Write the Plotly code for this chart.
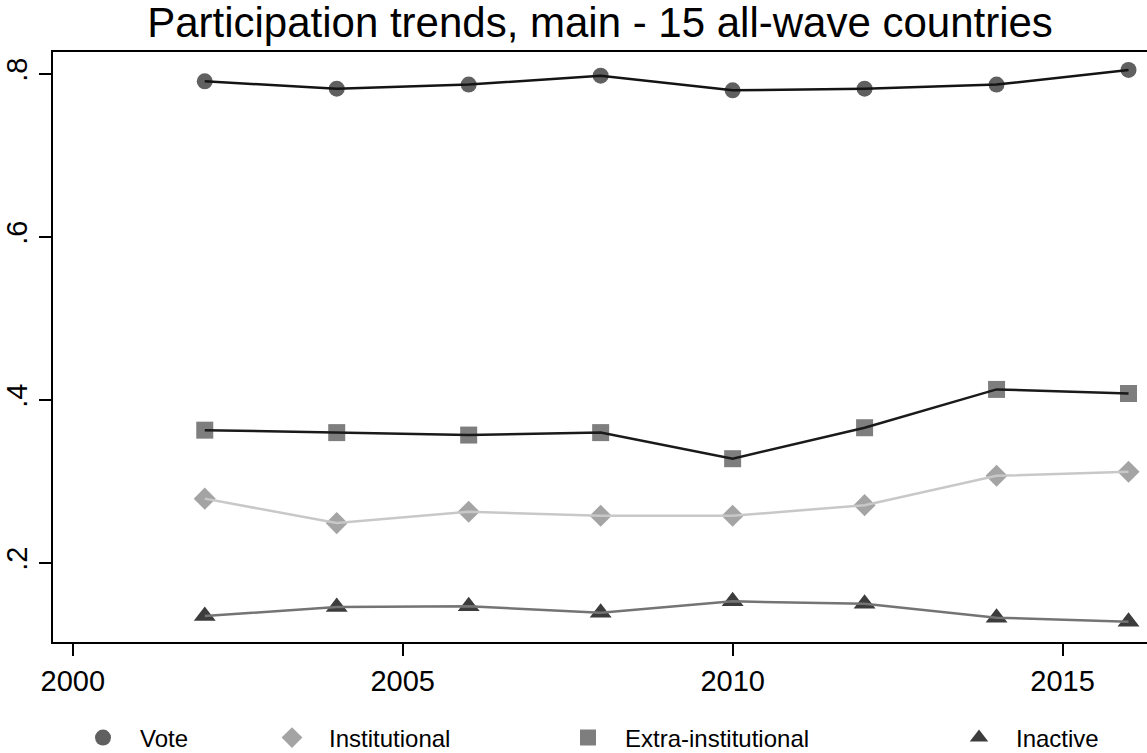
import plotly.graph_objects as go

years = [2002, 2004, 2006, 2008, 2010, 2012, 2014, 2016]
vote = [0.791, 0.782, 0.787, 0.798, 0.780, 0.782, 0.787, 0.805]
institutional = [0.279, 0.249, 0.263, 0.258, 0.258, 0.271, 0.307, 0.312]
extra_institutional = [0.363, 0.360, 0.357, 0.360, 0.328, 0.366, 0.413, 0.408]
inactive = [0.135, 0.146, 0.147, 0.139, 0.153, 0.150, 0.133, 0.128]

series_names = ["Vote", "Institutional", "Extra-institutional", "Inactive"]
x_tickvals = [2000, 2005, 2010, 2015]
y_tickvals = [0.2, 0.4, 0.6, 0.8]
y_ticktext = [".2", ".4", ".6", ".8"]

W, H = 1147, 753
ML, MR, MT, MB = 53, 0, 52, 111
PW = W - ML - MR
PH = H - MT - MB

styles = [
    dict(symbol="circle", size=16, mcolor="#606060", lcolor="#141414"),
    dict(symbol="diamond", size=17, mcolor="#a4a4a4", lcolor="#c8c8c8"),
    dict(symbol="square", size=17, mcolor="#7e7e7e", lcolor="#1a1a1a"),
    dict(symbol="triangle-up", size=19, mcolor="#3c3c3c", lcolor="#747474"),
]
data = [vote, institutional, extra_institutional, inactive]
legend_ids = ["legend", "legend2", "legend3", "legend4"]
legend_text_px = [140, 329, 625, 1016]
ITEMW = 64

fig = go.Figure()
for name, ys, st, lg in zip(series_names, data, styles, legend_ids):
    fig.add_trace(go.Scatter(
        x=years, y=ys, mode="markers", name=name, legend=lg,
        marker=dict(symbol=st["symbol"], size=st["size"], color=st["mcolor"],
                    line=dict(width=0)),
    ))
    fig.add_trace(go.Scatter(
        x=years, y=ys, mode="lines", name=name, showlegend=False,
        line=dict(color=st["lcolor"], width=2.5),
    ))

font_family = "Liberation Sans, Arial, sans-serif"
layout_legends = {}
for lg, tx in zip(legend_ids, legend_text_px):
    layout_legends[lg] = dict(
        x=(tx - (ITEMW + 10) - ML) / PW, xanchor="left",
        y=(MT + PH - 738) / PH, yanchor="middle",
        orientation="h", bgcolor="rgba(0,0,0,0)", borderwidth=0,
        itemwidth=ITEMW,
        font=dict(family=font_family, size=24, color="#000000"),
    )

fig.update_layout(
    width=W, height=H,
    margin=dict(l=ML, r=MR, t=MT, b=MB, pad=0, autoexpand=False),
    paper_bgcolor="white", plot_bgcolor="white",
    title=dict(text="Participation trends, main - 15 all-wave countries",
               x=0.5, xref="paper", xanchor="center",
               y=1 - 22 / H, yref="container", yanchor="middle",
               font=dict(family=font_family, size=42, color="#000000")),
    xaxis=dict(range=[1999.70, 2016.28], tickvals=x_tickvals,
               showgrid=False, zeroline=False, automargin=False,
               showline=True, linecolor="black", linewidth=2, mirror=True,
               ticks="outside", ticklen=12, tickwidth=2, tickcolor="black",
               tickfont=dict(family=font_family, size=29, color="#000000")),
    yaxis=dict(range=[0.1031, 0.827], tickvals=y_tickvals, ticktext=y_ticktext,
               showgrid=False, zeroline=False, tickangle=-90, automargin=False,
               showline=True, linecolor="black", linewidth=2, mirror=False,
               ticks="outside", ticklen=12, tickwidth=2, tickcolor="black",
               tickfont=dict(family=font_family, size=29, color="#000000")),
    **layout_legends,
)

fig.write_html(
    "out.html",
    config={"displayModeBar": False},
    post_script="document.body.style.margin='0';document.body.style.overflow='hidden';",
)
